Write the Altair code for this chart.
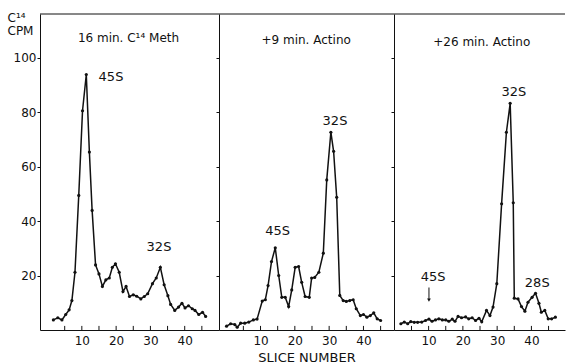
import altair as alt
import pandas as pd

FONT = "DejaVu Sans"
INK = "#111111"

# ---- data ----
p1_slice = [1.7, 3.0, 4.2, 5.3, 6.3, 7.1, 8.0, 9.1, 10.2, 11.3, 12.2, 13.0, 14.0, 15.0, 16.0,
            17.0, 18.0, 18.9, 19.8, 20.9, 22.0, 22.9, 23.9, 25.0, 26.0, 27.2, 28.2, 29.2,
            30.6, 31.7, 32.9, 34.0, 35.1, 35.9, 37.1, 38.2, 39.2, 40.1, 41.1, 42.2, 43.0,
            44.1, 45.2, 46.1]
p1_cpm = [3.7, 4.5, 3.7, 5.7, 7.4, 10.8, 21.2, 49.4, 80.5, 93.8, 65.3, 43.9, 23.9, 20.6, 16.0,
          18.4, 19.1, 23.0, 24.3, 21.2, 14.1, 16.0, 12.3, 12.9, 12.4, 11.4, 12.3, 13.3,
          17.0, 19.1, 23.0, 16.6, 12.6, 9.4, 7.2, 8.4, 9.8, 8.1, 8.9, 7.8, 7.2,
          5.7, 6.5, 5.0]

p2_slice = [0.1, 1.3, 2.5, 3.2, 4.2, 5.4, 6.6, 7.9, 9.0, 10.5, 11.4, 12.2, 13.2, 14.3, 15.3,
            16.2, 17.2, 18.2, 19.1, 20.1, 21.1, 22.0, 23.0, 24.2, 24.9, 25.8, 27.0, 28.3,
            29.3, 30.5, 31.3, 32.2, 33.1, 34.1, 35.0, 36.0, 37.0, 37.9, 39.1, 40.0, 41.0,
            42.0, 43.0, 44.0, 45.0]
p2_cpm = [1.4, 2.3, 2.0, 1.0, 2.5, 2.5, 2.9, 3.7, 4.0, 10.6, 11.1, 16.3, 25.1, 30.2, 20.0,
          12.0, 12.0, 8.6, 14.7, 23.0, 23.3, 17.5, 12.3, 12.0, 19.1, 19.3, 21.2, 28.2,
          55.1, 72.6, 65.6, 48.7, 12.7, 10.8, 10.5, 10.8, 11.1, 7.8, 5.3, 5.7, 4.7,
          5.3, 6.3, 4.1, 3.5]

p3_slice = [1.9, 2.9, 3.9, 4.8, 5.8, 6.8, 8.0, 9.1, 10.1, 11.0, 12.0, 13.0, 14.0, 15.0, 15.9,
            16.9, 17.7, 18.6, 19.6, 20.8, 21.7, 22.7, 23.7, 24.7, 25.5, 26.9, 27.9, 28.8,
            29.9, 31.3, 32.7, 33.8, 34.7, 35.0, 36.1, 37.1, 38.1, 39.0, 40.2, 41.2, 42.2,
            42.9, 43.9, 44.9, 45.9, 47.0]
p3_cpm = [2.3, 2.9, 2.3, 3.1, 2.8, 2.8, 2.9, 3.5, 4.0, 3.2, 3.7, 4.1, 3.7, 3.7, 3.2,
          4.0, 3.2, 5.0, 4.5, 4.8, 4.1, 4.5, 3.5, 4.3, 3.0, 7.2, 5.3, 8.4,
          17.0, 46.3, 72.6, 83.2, 46.7, 11.7, 11.4, 8.6, 6.9, 10.2, 12.0, 13.5, 9.8,
          6.5, 7.2, 4.1, 4.1, 4.7]

panel_titles = ["16 min. C¹⁴ Meth", "+9 min. Actino", "+26 min. Actino"]
title_slice = [23.6, 23.3, 25.5]
title_cpm = [107.3, 106.6, 105.9]

p1_peak_text = ["45S", "32S"]
p1_peak_slice = [18.5, 32.5]
p1_peak_cpm = [92.7, 30.6]
p2_peak_text = ["45S", "32S"]
p2_peak_slice = [15.0, 31.7]
p2_peak_cpm = [36.5, 76.9]
p3_peak_text = ["32S", "45S", "28S"]
p3_peak_slice = [34.9, 11.3, 41.7]
p3_peak_cpm = [87.5, 19.3, 17.1]
arrow_slice = [10.1]
arrow_top = [15.6]
arrow_tip = [11.0]

y_tick_values = [20, 40, 60, 80, 100]
x_label_values = [10, 20, 30, 40]
x_minor_ticks = [5, 10, 15, 20, 25, 30, 35, 40, 45]
Y_TOP = 116

x_domains = [[-2.2, 50.0], [-2.1, 48.9], [-0.1, 49.8]]
panel_widths = [179, 175, 171]
PANEL_H = 316


def make_panel(i, xs, ys, peaks, first, x_title, arrow=None):
    xsc = alt.Scale(domain=x_domains[i], nice=False, zero=False)
    ysc = alt.Scale(domain=[0, Y_TOP], nice=False, zero=True)

    if x_title:
        xaxis = alt.Axis(values=x_label_values, tickSize=0, labelPadding=5, grid=False,
                         title=x_title, titleFont=FONT, titleFontSize=13, titleFontWeight="normal",
                         titlePadding=5, titleColor=INK)
    else:
        xaxis = alt.Axis(values=x_label_values, tickSize=0, labelPadding=5, grid=False, title=None)

    if first:
        yaxis = alt.Axis(values=y_tick_values, tickSize=3, labelPadding=1, grid=False,
                         title=["C¹⁴", "CPM"], titleAngle=0, titleAlign="left",
                         titleBaseline="alphabetic", titleX=-33, titleY=7,
                         titleFont=FONT, titleFontSize=12, titleFontWeight="normal",
                         titleLineHeight=13, titleColor=INK)
    else:
        yaxis = alt.Axis(values=y_tick_values, tickSize=3, labels=False, grid=False, title=None)

    df = pd.DataFrame({"slice": xs, "cpm": ys})
    line = alt.Chart(df).mark_line(
        color=INK, strokeWidth=1.5,
        point=alt.OverlayMarkDef(filled=True, size=10, color=INK),
    ).encode(
        x=alt.X("slice:Q", scale=xsc, axis=xaxis),
        y=alt.Y("cpm:Q", scale=ysc, axis=yaxis),
    )

    top = alt.Chart(pd.DataFrame({"v": [Y_TOP]})).mark_rule(color=INK, strokeWidth=1).encode(
        y=alt.Y("v:Q", scale=ysc)
    )

    ticks = alt.Chart(pd.DataFrame({"t": x_minor_ticks, "y0": [0] * 9, "y1": [1.5] * 9})).mark_rule(
        color=INK, strokeWidth=1
    ).encode(
        x=alt.X("t:Q", scale=xsc),
        y=alt.Y("y0:Q", scale=ysc),
        y2="y1:Q",
    )

    tdf = pd.DataFrame({"slice": [title_slice[i]], "cpm": [title_cpm[i]], "txt": [panel_titles[i]]})
    title = alt.Chart(tdf).mark_text(font=FONT, fontSize=12, color=INK).encode(
        x=alt.X("slice:Q", scale=xsc), y=alt.Y("cpm:Q", scale=ysc), text="txt:N"
    )

    pdf = pd.DataFrame({"slice": peaks[1], "cpm": peaks[2], "txt": peaks[0]})
    plabels = alt.Chart(pdf).mark_text(font=FONT, fontSize=13, color=INK).encode(
        x=alt.X("slice:Q", scale=xsc), y=alt.Y("cpm:Q", scale=ysc), text="txt:N"
    )

    layers = [top, ticks, line, title, plabels]

    if arrow is not None:
        adf = pd.DataFrame({"slice": arrow[0], "top": arrow[1], "tip": arrow[2]})
        shaft = alt.Chart(adf).mark_rule(color=INK, strokeWidth=1).encode(
            x=alt.X("slice:Q", scale=xsc), y=alt.Y("top:Q", scale=ysc), y2="tip:Q"
        )
        head = alt.Chart(adf).mark_point(shape="triangle-down", filled=True, size=14, color=INK,
                                         opacity=1).encode(
            x=alt.X("slice:Q", scale=xsc), y=alt.Y("tip:Q", scale=ysc)
        )
        layers += [shaft, head]

    return alt.layer(*layers).properties(width=panel_widths[i], height=PANEL_H)


c1 = make_panel(0, p1_slice, p1_cpm, (p1_peak_text, p1_peak_slice, p1_peak_cpm), True, None)
c2 = make_panel(1, p2_slice, p2_cpm, (p2_peak_text, p2_peak_slice, p2_peak_cpm), False, "SLICE NUMBER")
c3 = make_panel(2, p3_slice, p3_cpm, (p3_peak_text, p3_peak_slice, p3_peak_cpm), False, None,
                arrow=(arrow_slice, arrow_top, arrow_tip))

chart = alt.hconcat(c1, c2, c3, spacing=0, bounds="flush").properties(
    padding={"left": 7, "top": 11, "right": 0, "bottom": 2},
    background="white",
).configure_view(
    strokeWidth=0
).configure_axis(
    domainColor=INK, tickColor=INK, labelColor=INK, labelFont=FONT, labelFontSize=12,
    domainWidth=1, tickWidth=1,
)

chart.save("out.html", embed_options={"renderer": "svg", "actions": False})
